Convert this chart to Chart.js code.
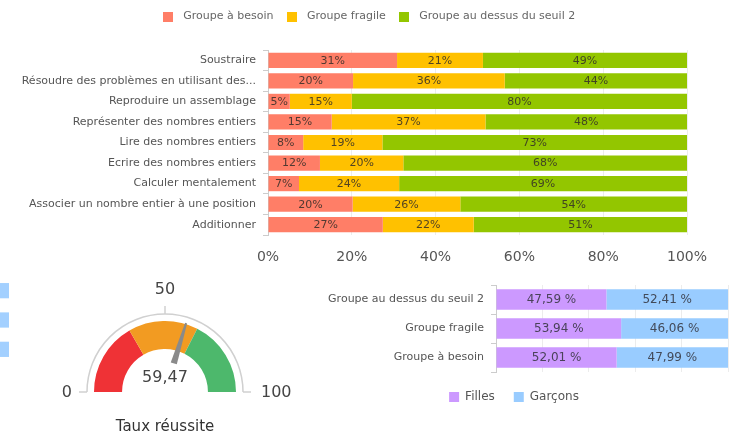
<!DOCTYPE html>
<html><head><meta charset="utf-8">
<script src="https://cdn.jsdelivr.net/npm/chart.js@4.4.1/dist/chart.umd.min.js"></script>
<style>
html,body{margin:0;padding:0;background:#fff;width:733px;height:436px;overflow:hidden;position:relative}
canvas{position:absolute;display:block}
</style></head><body>
<canvas id="top" style="left:0;top:0;width:733px;height:270px" width="733" height="270"></canvas>
<canvas id="stub" style="left:0;top:276px;width:9px;height:88px" width="9" height="88"></canvas>
<canvas id="gauge" style="left:0;top:270px;width:330px;height:166px" width="330" height="166"></canvas>
<canvas id="gender" style="left:300px;top:270px;width:433px;height:166px" width="433" height="166"></canvas>
<script>
// ---------- data ----------
const skills = ["Soustraire","Résoudre des problèmes en utilisant des...","Reproduire un assemblage","Représenter des nombres entiers","Lire des nombres entiers","Ecrire des nombres entiers","Calculer mentalement","Associer un nombre entier à une position","Additionner"];
const groupNames = ["Groupe à besoin","Groupe fragile","Groupe au dessus du seuil 2"];
const besoin  = [30.8, 20.3, 5.2, 15.2, 8.4, 12.4, 7.4, 20.2, 27.4];
const fragile = [20.5, 36.2, 14.8, 36.7, 18.9, 19.9, 23.9, 25.7, 21.7];
const seuil2  = [48.7, 43.5, 80.0, 48.1, 72.7, 67.7, 68.7, 54.1, 50.9];
const pctTicks = [0, 20, 40, 60, 80, 100];

const genderGroups = ["Groupe au dessus du seuil 2","Groupe fragile","Groupe à besoin"];
const filles  = [47.59, 53.94, 52.01];
const garcons = [52.41, 46.06, 47.99];
const genderNames = ["Filles","Garçons"];

const gaugeBands = [33.3, 31.7, 35.0];   // red, orange, green
const gaugeValue = 59.47;
const gaugeTicks = [0, 50, 100];
const gaugeTitle = "Taux réussite";

const stubValues = [100, 100, 100];      // chart cut off at the left edge

// ---------- styling ----------
Chart.defaults.font.family = "'DejaVu Sans', sans-serif";
Chart.defaults.color = '#555';
Chart.defaults.animation = false;
const groupColors = ['#FF7E67', '#FFC100', '#93C600'];
const genderColors = ['#CC99FF', '#99CCFF'];

function squareIcon(color) {
  const c = document.createElement('canvas');
  c.width = 10; c.height = 10;
  const g = c.getContext('2d');
  g.fillStyle = color; g.fillRect(0, 0, 10, 10);
  return c;
}

function barLabels(fmt, font, color) {
  return {
    id: 'barLabels',
    afterDatasetsDraw(chart) {
      const ctx = chart.ctx;
      ctx.save();
      ctx.font = font; ctx.fillStyle = color;
      ctx.textAlign = 'center'; ctx.textBaseline = 'middle';
      chart.data.datasets.forEach((ds, di) => {
        const meta = chart.getDatasetMeta(di);
        meta.data.forEach((el, i) => {
          const x = (el.x + el.base) / 2;
          ctx.fillText(fmt(ds.data[i]), x, el.y + 0.5);
        });
      });
      ctx.restore();
    }
  };
}

// ---------- top stacked bar ----------
new Chart(document.getElementById('top'), {
  type: 'bar',
  data: {
    labels: skills,
    datasets: [besoin, fragile, seuil2].map((d, i) => ({
      label: groupNames[i], data: d, backgroundColor: groupColors[i],
      pointStyle: squareIcon(groupColors[i]),
      borderWidth: 0, barPercentage: 0.74, categoryPercentage: 1
    }))
  },
  options: {
    indexAxis: 'y', responsive: false,
    layout: { padding: { left: 0, right: 0, top: 3, bottom: 0 } },
    plugins: {
      legend: { position: 'top', labels: { usePointStyle: true, pointStyleWidth: 20, boxHeight: 10, padding: 8, font: { size: 11 }, color: '#666' } },
      subtitle: { display: true, text: ' ', weight: 500, font: { size: 1, lineHeight: 1 }, padding: { top: 0, bottom: 17 } },
      tooltip: { enabled: false }
    },
    scales: {
      x: {
        stacked: true, min: 0, max: 100,
        afterBuildTicks(s) { s.ticks = pctTicks.map(v => ({ value: v })); },
        afterFit(s) { s.height = 35; },
        grid: { color: '#ececec', drawTicks: false },
        border: { display: false },
        ticks: { padding: 14, font: { size: 14 }, color: '#555', callback: v => v + '%' }
      },
      y: {
        stacked: true,
        afterFit(s) { s.width = 268; },
        grid: { drawOnChartArea: false, tickLength: 5, color: '#ccc' },
        border: { display: true, color: '#ccc' },
        ticks: { padding: 7, font: { size: 11 }, color: '#555' }
      },
      yRight: {
        type: 'category', position: 'right',
        afterFit(s) { s.width = 46; },
        grid: { display: false, drawTicks: false },
        border: { display: false },
        ticks: { display: false }
      }
    }
  },
  plugins: [barLabels(v => Math.round(v) + '%', '11px "DejaVu Sans"', 'rgba(50,45,40,0.85)')]
});

// ---------- stub (cut-off chart at the left edge) ----------
new Chart(document.getElementById('stub'), {
  type: 'bar',
  data: { labels: ['a','b','c'], datasets: [{ data: stubValues, backgroundColor: '#A3D0FF', borderWidth: 0, barPercentage: 0.52, categoryPercentage: 1 }] },
  options: {
    indexAxis: 'y', responsive: false,
    layout: { padding: 0 },
    plugins: { legend: { display: false }, tooltip: { enabled: false } },
    scales: { x: { display: false, min: 0, max: 100 }, y: { display: false } }
  }
});

// ---------- gauge ----------
const gaugeDecor = {
  id: 'gaugeDecor',
  afterDatasetsDraw(chart) {
    const el = chart.getDatasetMeta(0).data[0];
    const cx = el.x, cy = el.y, R = el.outerRadius;
    const ctx = chart.ctx;
    ctx.save();
    // outer thin arc
    ctx.strokeStyle = '#d0d0d0'; ctx.lineWidth = 1.5;
    ctx.beginPath(); ctx.arc(cx, cy, R + 7, Math.PI, 2 * Math.PI); ctx.stroke();
    // ticks + labels
    ctx.fillStyle = '#444'; ctx.font = '16px "DejaVu Sans"'; ctx.textBaseline = 'middle';
    gaugeTicks.forEach(t => {
      const a = Math.PI + (t / 100) * Math.PI;
      ctx.beginPath();
      ctx.moveTo(cx + Math.cos(a) * (R + 7), cy + Math.sin(a) * (R + 7));
      ctx.lineTo(cx + Math.cos(a) * (R + 15), cy + Math.sin(a) * (R + 15));
      ctx.stroke();
      const lr = R + 24;
      let lx = cx + Math.cos(a) * lr, ly = cy + Math.sin(a) * lr;
      if (t === 0) { ctx.textAlign = 'right'; lx = cx - (R + 22); ly = cy + 1; }
      else if (t === 100) { ctx.textAlign = 'left'; lx = cx + (R + 25); ly = cy + 1; }
      else { ctx.textAlign = 'center'; ly = cy - (R + 31); }
      ctx.fillText(String(t), lx, ly);
    });
    // needle
    const a = Math.PI + (gaugeValue / 100) * Math.PI;
    const ux = Math.cos(a), uy = Math.sin(a), px = -uy, py = ux;
    const r0 = 30, r1 = R + 1;
    ctx.fillStyle = '#8a8a8a';
    ctx.beginPath();
    ctx.moveTo(cx + ux * r0 + px * 3.2, cy + uy * r0 + py * 3.2);
    ctx.lineTo(cx + ux * r1 + px * 1, cy + uy * r1 + py * 1);
    ctx.lineTo(cx + ux * r1 - px * 1, cy + uy * r1 - py * 1);
    ctx.lineTo(cx + ux * r0 - px * 3.2, cy + uy * r0 - py * 3.2);
    ctx.closePath(); ctx.fill();
    // value + title
    ctx.fillStyle = '#444'; ctx.textAlign = 'center';
    ctx.font = '16px "DejaVu Sans"';
    ctx.fillText(gaugeValue.toFixed(2).replace('.', ','), cx, cy - 14);
    ctx.fillStyle = '#333'; ctx.font = '15px "DejaVu Sans"';
    ctx.fillText(gaugeTitle, cx, cy + 35);
    ctx.restore();
  }
};
new Chart(document.getElementById('gauge'), {
  type: 'doughnut',
  data: { labels: ['rouge','orange','vert'], datasets: [{ data: gaugeBands, backgroundColor: ['#EF3236', '#F29B22', '#4DB86C'], borderWidth: 0 }] },
  options: {
    responsive: false, rotation: -90, circumference: 180, cutout: '60.5%',
    layout: { padding: { left: 94, right: 94, top: 51, bottom: 44 } },
    plugins: { legend: { display: false }, tooltip: { enabled: false } }
  },
  plugins: [gaugeDecor]
});

// ---------- gender stacked bar ----------
new Chart(document.getElementById('gender'), {
  type: 'bar',
  data: {
    labels: genderGroups,
    datasets: [filles, garcons].map((d, i) => ({
      label: genderNames[i], data: d, backgroundColor: genderColors[i],
      borderWidth: 0, barPercentage: 0.7, categoryPercentage: 1
    }))
  },
  options: {
    indexAxis: 'y', responsive: false,
    layout: { padding: { left: 0, right: 5, top: 15, bottom: 23 } },
    plugins: {
      legend: { position: 'bottom', labels: { boxWidth: 10, boxHeight: 10, padding: 19, font: { size: 12 }, color: '#555' } },
      tooltip: { enabled: false }
    },
    scales: {
      x: {
        stacked: true, min: 0, max: 100,
        afterBuildTicks(s) { s.ticks = pctTicks.map(v => ({ value: v })); },
        afterFit(s) { s.height = 0; },
        grid: { color: '#ececec', drawTicks: false },
        border: { display: false },
        ticks: { display: false }
      },
      y: {
        stacked: true,
        afterFit(s) { s.width = 196; },
        grid: { drawOnChartArea: false, tickLength: 5, color: '#ccc' },
        border: { display: true, color: '#ccc' },
        ticks: { padding: 7, font: { size: 11 }, color: '#555' }
      }
    }
  },
  plugins: [barLabels(v => v.toFixed(2).replace('.', ',') + ' %', '12px "DejaVu Sans"', 'rgba(50,50,60,0.85)')]
});
</script>
</body></html>
